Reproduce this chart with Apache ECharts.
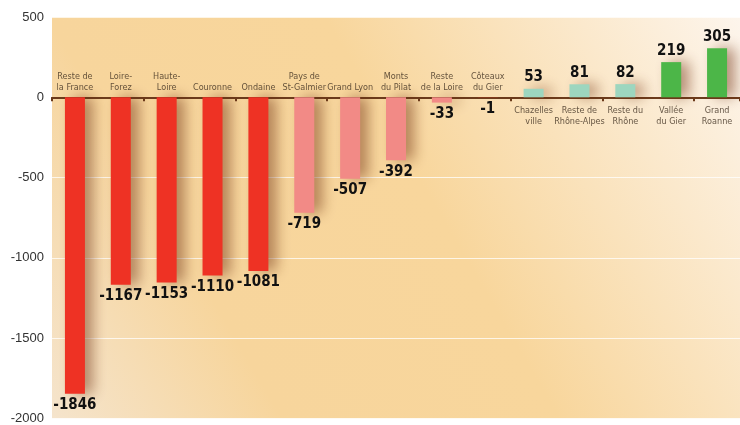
<!DOCTYPE html>
<html><head><meta charset="utf-8">
<script src="https://cdn.jsdelivr.net/npm/echarts@6/dist/echarts.min.js"></script>
<style>html,body{margin:0;padding:0;background:#fff}#c{width:740px;height:425px}</style>
</head><body><div id="c"></div>
<script>
const categories = ['Reste de\nla France','Loire-\nForez','Haute-\nLoire','Couronne','Ondaine','Pays de\nSt-Galmier','Grand Lyon','Monts\ndu Pilat','Reste\nde la Loire','Côteaux\ndu Gier','Chazelles\nville','Reste de\nRhône-Alpes','Reste du\nRhône','Vallée\ndu Gier','Grand\nRoanne'];
const values = [-1846,-1167,-1153,-1110,-1081,-719,-507,-392,-33,-1,53,81,82,219,305];
const barColors = ['#ee3224','#ee3224','#ee3224','#ee3224','#ee3224','#f28a86','#f28a86','#f28a86','#f28a86','#ee3224','#9dd6bf','#9dd6bf','#9dd6bf','#4cb648','#4cb648'];
const yTicks = {min:-2000, max:500, interval:500};

const COND = "'DejaVu Sans Condensed','Liberation Sans Narrow',Roboto,sans-serif";
const chart = echarts.init(document.getElementById('c'));
chart.setOption({
  animation:false,
  grid:{left:52,right:0,top:17,bottom:3,show:true,borderWidth:0,
    backgroundColor:new echarts.graphic.LinearGradient(1,0,0,1,[
      {offset:0,color:'#fdf5ec'},{offset:0.45,color:'#f8d69c'},{offset:0.75,color:'#f7d59c'},{offset:1,color:'#f5e4cc'}])},
  xAxis:{
    type:'category', data:categories,
    axisLine:{onZero:true,lineStyle:{color:'#6b3a1a',width:2}},
    axisTick:{show:true,length:4,lineStyle:{color:'#6b3a1a',width:2}},
    axisLabel:{show:false}
  },
  yAxis:{type:'value',min:yTicks.min,max:yTicks.max,interval:yTicks.interval,
    axisLine:{show:false},axisTick:{show:false},
    axisLabel:{fontFamily:"'Liberation Sans',sans-serif",fontSize:13,color:'#333',margin:8,formatter:v=>String(v)},
    splitLine:{show:true,lineStyle:{color:'rgba(255,255,255,0.75)',width:1}}},
  series:[{
    type:'bar', barWidth:20,
    data:values.map((v,i)=>({value:v,itemStyle:{color:barColors[i]},
      label:{position:v<0?'bottom':'top'}})),
    itemStyle:{shadowBlur:14,shadowColor:'rgba(110,45,15,0.5)',shadowOffsetX:8,shadowOffsetY:0},
    label:{show:true,fontFamily:COND,fontWeight:'bold',fontSize:15,color:'#111',distance:4}
  },{
    type:'scatter', symbolSize:0, silent:true, z:5,
    data:categories.map((c,i)=>({value:[i,0],label:{position:values[i]>0?'bottom':'top',distance:values[i]>0?8:4}})),
    label:{show:true,formatter:p=>categories[p.dataIndex],fontFamily:COND,fontSize:9,color:'#3f3020',lineHeight:11,align:'center'}
  }]
});
</script></body></html>
